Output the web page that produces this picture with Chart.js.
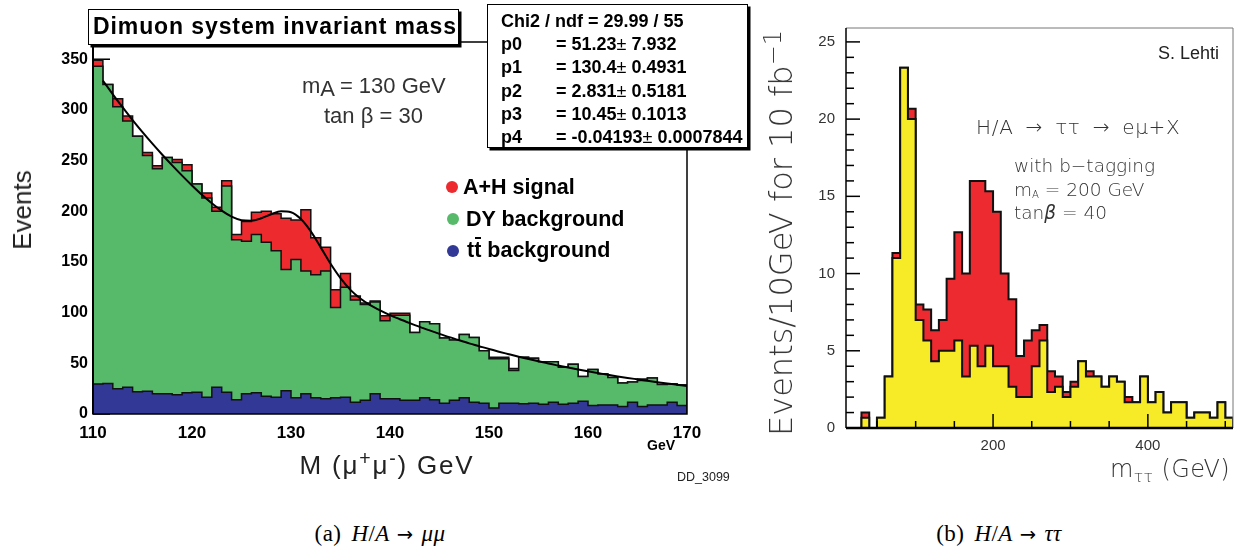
<!DOCTYPE html>
<html>
<head>
<meta charset="utf-8">
<script src="https://cdn.jsdelivr.net/npm/chart.js@4.4.1/dist/chart.umd.min.js"></script>
<style>
  html, body { margin:0; padding:0; background:#fff; }
  #page { position:relative; width:1240px; height:550px; overflow:hidden; background:#fff; }
  canvas { position:absolute; top:0; }
  .t { position:absolute; white-space:nowrap; line-height:1; font-family:"Liberation Sans", Arial, sans-serif; color:#000; }
  .b { font-weight:bold; }
  .pm { font-weight:normal; }
  .box { position:absolute; box-sizing:border-box; border:1.5px solid #000; background:#fff; box-shadow:2.5px 2.5px 0 #000; }
  .dot { position:absolute; width:12px; height:12px; border-radius:50%; }
  .thin { font-family:"DejaVu Sans", sans-serif; font-weight:200; color:#333; }
  .serif { font-family:"Liberation Serif", "DejaVu Serif", serif; font-size:23px; word-spacing:4px; letter-spacing:0.4px; }
  .arr { font-family:"DejaVu Sans", sans-serif; font-size:0.85em; margin:0 8px 0 7px; }
  .bar { position:relative; }
  .bar::before { content:""; position:absolute; left:1px; right:0; top:-1px; border-top:2px solid #000; }
  .sup { font-size:0.75em; position:relative; top:-0.45em; }
</style>
</head>
<body>
<div id="page">
  <canvas id="muChart" width="760" height="500" style="left:0"></canvas>
  <canvas id="tauChart" width="480" height="500" style="left:760px"></canvas>

  <!-- left panel texts -->
  <div class="box" style="left:88px;top:9px;width:371px;height:36px"></div>
  <div class="t b" style="left:93px;top:14.8px;font-size:23px;letter-spacing:0.9px">Dimuon system invariant mass</div>

  <div class="box" style="left:487px;top:4px;width:261px;height:144px"></div>
  <div class="t b" style="left:501px;top:11.8px;font-size:18px">Chi2 / ndf = 29.99 / 55</div>
  <div class="t b" style="left:501px;top:35.1px;font-size:18px">p0</div>
  <div class="t b" style="left:556px;top:35.1px;font-size:18px">= 51.23<span class="pm">±</span> 7.932</div>
  <div class="t b" style="left:501px;top:58.4px;font-size:18px">p1</div>
  <div class="t b" style="left:556px;top:58.4px;font-size:18px">= 130.4<span class="pm">±</span> 0.4931</div>
  <div class="t b" style="left:501px;top:81.8px;font-size:18px">p2</div>
  <div class="t b" style="left:556px;top:81.8px;font-size:18px">= 2.831<span class="pm">±</span> 0.5181</div>
  <div class="t b" style="left:501px;top:105.1px;font-size:18px">p3</div>
  <div class="t b" style="left:556px;top:105.1px;font-size:18px">= 10.45<span class="pm">±</span> 0.1013</div>
  <div class="t b" style="left:501px;top:128.4px;font-size:18px">p4</div>
  <div class="t b" style="left:556px;top:128.4px;font-size:18px">= -0.04193<span class="pm">±</span> 0.0007844</div>

  <div class="t" style="left:302px;top:74.7px;font-size:22px;color:#333">m<span style="position:relative;top:3.5px">A</span> = 130 GeV</div>
  <div class="t" style="left:324px;top:104.7px;font-size:22px;color:#333">tan β = 30</div>

  <div class="dot" style="left:446px;top:181px;background:#ED2A2E"></div>
  <div class="t b" style="left:463px;top:176.8px;font-size:21.5px">A+H signal</div>
  <div class="dot" style="left:447px;top:213px;background:#56BA6A"></div>
  <div class="t b" style="left:466px;top:208.8px;font-size:21.5px">DY background</div>
  <div class="dot" style="left:447px;top:245px;background:#323896"></div>
  <div class="t b" style="left:467px;top:240.3px;font-size:21.5px">t<span class="bar">t</span> background</div>

  <div class="t" style="left:22px;top:210px;font-size:26px;color:#222;transform:translate(-50%,-50%) rotate(-90deg)">Events</div>
  <div class="t" style="left:387px;top:452px;font-size:26px;color:#222;letter-spacing:1.8px;transform:translateX(-50%)">M (μ<span class="sup">+</span>μ<span class="sup">-</span>) GeV</div>
  <div class="t b" style="left:647px;top:438px;font-size:14px">GeV</div>
  <div class="t" style="left:677px;top:471px;font-size:12.5px;color:#222">DD_3099</div>
  <div class="t serif" style="left:380px;top:521.5px;transform:translateX(-50%)">(a) <i>H</i>/<i>A</i><span class="arr">→</span><i>μμ</i></div>

  <!-- right panel texts -->
  <div class="t" style="left:1158px;top:44.1px;font-size:18px;color:#222">S. Lehti</div>
  <div class="t thin" style="left:976px;top:117.1px;font-size:20px;word-spacing:5px;letter-spacing:0.7px">H/A → ττ → eμ+X</div>
  <div class="t thin" style="left:1014px;top:157.3px;font-size:18.5px">with b−tagging</div>
  <div class="t thin" style="left:1014px;top:181px;font-size:18.5px">m<span style="font-size:0.55em;position:relative;top:2px">A</span> = 200 GeV</div>
  <div class="t thin" style="left:1014px;top:204.3px;font-size:18.5px">tan<i>β</i> = 40</div>
  <div class="t thin" style="left:781px;top:233px;font-size:32px;transform:translate(-50%,-50%) rotate(-90deg)">Events/10GeV for 10 fb<span class="sup">−1</span></div>
  <div class="t thin" style="left:1110px;top:456.7px;font-size:24px;letter-spacing:0.4px">m<span style="font-size:0.65em;position:relative;top:5px">ττ</span> (GeV)</div>
  <div class="t serif" style="left:999px;top:521.5px;transform:translateX(-50%)">(b) <i>H</i>/<i>A</i><span class="arr">→</span><i>ττ</i></div>
</div>

<script>
// ---------------- Left panel: H/A -> mu mu ----------------
// bin edges (GeV), 1 GeV bins from 110 to 170
const muEdges = [110,111,112,113,114,115,116,117,118,119,120,121,122,123,124,125,126,127,128,129,
                 130,131,132,133,134,135,136,137,138,139,140,141,142,143,144,145,146,147,148,149,
                 150,151,152,153,154,155,156,157,158,159,160,161,162,163,164,165,166,167,168,169,170];
// signal + DY + ttbar (top of red)
const muTotal = [349,325,311,294,274,258,245,253,251,246,
                 227,218,204,230,177,190,199,200,197.5,193,
                 191.5,201.5,174,164.5,122.5,138.5,116.5,109.5,111.5,97,
                 99.5,99.5,80.5,91,89,75,73,78.5,75.5,62.5,
                 56,56,45,56,55,51.5,51.5,46,49,37,
                 44,39.5,36,30.5,31.5,34.5,35.5,29,29.5,28.5];
// DY + ttbar (top of green)
const muBackground = [343,325,303,289,274,255,242,253,248,240,
                      227,213,200,225,172,170.5,177,169.5,161,142.5,
                      152.5,141,137.5,141,105,125,112.5,108,110.5,92,
                      97.5,97.5,80.5,91,89,75,73,78.5,75.5,62.5,
                      54.5,54.5,43,56,55,51.5,51.5,46,49,37,
                      44,39.5,36,30.5,31.5,33,35.5,29,29.5,28.5];
// ttbar only (top of blue)
const muTtbar = [29.5,30,25,26.5,22,22.5,20,20,19,21,
                 21.5,16.5,26.5,21.5,14,20,21,17.5,16.5,23,
                 16,20,16,15,16,16.5,11.5,13.5,20,15,
                 15,13.5,13.5,16,14,10.5,13.5,16,11.5,10.5,
                 6,10.5,10.5,10,10.5,9.5,11.5,9.5,10.5,12.5,
                 8.5,9,9,7.5,11.5,7.5,9,9,11.5,8.5];
// fit curve
const muFitMass = [111,112,113,114,115,116,117,118,119,120,121,122,123,124,125,126,127,128,129,130,
                   131,132,133,134,135,136,137,138,139,140,141,142,143,144,145,146,147,148,149,150,
                   151,152,153,154,155,156,157,158,159,160,161,162,163,164,165,166,167,168,169,170];
const muFitValue = [328.9,315.4,302.5,290.0,278.1,266.7,255.8,245.3,235.2,225.5,216.3,208.0,200.6,194.7,191.2,190.7,193.1,197.1,200.0,199.0,
                    192.3,180.1,164.4,148.2,134.0,122.5,114.0,107.5,102.2,97.5,93.5,89.7,86.0,82.5,79.1,75.8,72.7,69.7,66.9,64.1,
                    61.5,59.0,56.5,54.2,52.0,49.8,47.8,45.8,43.9,42.1,40.4,38.7,37.1,35.6,34.2,32.8,31.4,30.1,28.9,27.7];
const muXTicks = [110,120,130,140,150,160,170];
const muYTicks = [0,50,100,150,200,250,300,350];

// ---------------- Right panel: H/A -> tau tau ----------------
const tauEdges = [10,20,30,40,50,60,70,80,90,100,110,120,130,140,150,160,170,180,190,200,
                  210,220,230,240,250,260,270,280,290,300,310,320,330,340,350,360,370,380,390,400,
                  410,420,430,440,450,460,470,480,490,500,510];
// signal + background (top of red)
const tauTotal = [0,0,1.0,0,0.67,3.33,11.33,23.33,20.67,8.0,
                  7.67,6.33,7.0,9.67,12.67,10.0,16.0,16.0,15.33,14.0,
                  10.0,8.33,4.67,5.67,6.33,6.67,3.67,3.33,2.33,3.0,
                  4.33,3.67,3.33,2.67,3.33,3.0,2.0,1.67,3.33,1.67,
                  2.33,1.0,1.67,1.67,0.67,1.0,1.0,0.67,1.67,0.67];
// background only (top of yellow)
const tauBackground = [0,0,0.67,0,0.67,3.33,11.0,23.33,20.0,7.0,
                       5.67,4.33,5.0,5.0,5.67,3.33,5.33,4.0,5.33,4.0,
                       4.0,2.67,2.0,2.0,4.0,5.67,2.33,2.67,2.0,2.67,
                       4.33,3.33,3.33,2.67,3.33,3.0,1.67,1.67,3.33,1.67,
                       2.33,1.0,1.67,1.67,0.67,1.0,1.0,0.67,1.67,0.67];
const tauXTicks = [200,400];
const tauYTicks = [0,5,10,15,20,25];

// histogram outline points: step line along bin edges
function histPoints(edges, vals) {
  const pts = [{x: edges[0], y: 0}];
  vals.forEach((v, i) => pts.push({x: edges[i], y: v}));
  pts.push({x: edges[vals.length], y: vals[vals.length - 1]});
  pts.push({x: edges[vals.length], y: 0});
  return pts;
}
function histDataset(edges, vals, fillColor, order, lw) {
  return {
    type: 'line', data: histPoints(edges, vals), stepped: 'before',
    borderColor: '#111', borderWidth: lw, backgroundColor: fillColor, fill: 'origin',
    pointRadius: 0, borderJoinStyle: 'miter', order: order
  };
}
function fixedTicks(list) { return s => { s.ticks = list.map(v => ({value: v})); }; }

const FONT = 'Liberation Sans';

// ---- left chart ----
const muFrame = {
  id: 'muFrame',
  beforeDatasetsDraw(chart) {
    const {ctx, chartArea: a, scales: {y}} = chart;
    ctx.save(); ctx.strokeStyle = '#000'; ctx.lineWidth = 1.5;
    muYTicks.forEach(v => { const py = y.getPixelForValue(v); ctx.beginPath(); ctx.moveTo(a.left, py); ctx.lineTo(a.left + 17, py); ctx.stroke(); });
    ctx.restore();
  },
  afterDatasetsDraw(chart) {
    const {ctx, chartArea: a} = chart;
    ctx.save(); ctx.strokeStyle = '#000'; ctx.lineWidth = 1.5;
    ctx.strokeRect(a.left, a.top, a.right - a.left, a.bottom - a.top);
    ctx.lineWidth = 2; ctx.beginPath(); ctx.moveTo(a.left, a.top); ctx.lineTo(a.left, a.bottom); ctx.stroke();
    ctx.restore();
  }
};

new Chart(document.getElementById('muChart'), {
  type: 'line',
  data: {
    datasets: [
      {type: 'line', data: muFitMass.map((m, i) => ({x: m, y: muFitValue[i]})), borderColor: '#000', borderWidth: 2,
       tension: 0.4, cubicInterpolationMode: 'monotone', pointRadius: 0, fill: false, order: 0},
      histDataset(muEdges, muTtbar, '#323896', 1, 1.5),
      histDataset(muEdges, muBackground, '#56BA6A', 2, 1.5),
      histDataset(muEdges, muTotal, '#ED2A2E', 3, 1.5)
    ]
  },
  options: {
    responsive: false, animation: false, events: [],
    layout: {padding: {left: 43, right: 73, top: 42, bottom: 46}},
    plugins: {legend: {display: false}, tooltip: {enabled: false}, title: {display: false}},
    scales: {
      x: {type: 'linear', min: 110, max: 170, afterBuildTicks: fixedTicks(muXTicks),
          afterFit: s => { s.height = 40; },
          ticks: {font: {family: FONT, size: 17, weight: 'bold'}, color: '#000', padding: 9, maxRotation: 0, autoSkip: false},
          grid: {display: false, drawTicks: false}, border: {display: false}},
      y: {type: 'linear', min: 0, max: 367, afterBuildTicks: fixedTicks(muYTicks),
          afterFit: s => { s.width = 50; },
          ticks: {font: {family: FONT, size: 16, weight: 'bold'}, color: '#000', padding: 5, autoSkip: false},
          grid: {display: false, drawTicks: false}, border: {display: false}}
    }
  },
  plugins: [muFrame]
});

// ---- right chart ----
const tauFrame = {
  id: 'tauFrame',
  afterDatasetsDraw(chart) {
    const {ctx, chartArea: a, scales: {x, y}} = chart;
    ctx.save();
    ctx.strokeStyle = '#777'; ctx.lineWidth = 1;
    ctx.beginPath(); ctx.moveTo(a.left, a.top); ctx.lineTo(a.right, a.top); ctx.lineTo(a.right, a.bottom); ctx.stroke();
    ctx.strokeStyle = '#000'; ctx.lineWidth = 1.5;
    for (let v = 0; v <= 25; v++) {
      const py = y.getPixelForValue(v), len = v % 5 === 0 ? 14 : 8;
      ctx.beginPath(); ctx.moveTo(a.left, py); ctx.lineTo(a.left + len, py); ctx.stroke();
    }
    for (let v = 50; v <= 500; v += 50) {
      const px = x.getPixelForValue(v), len = v % 200 === 0 ? 14 : 7;
      ctx.beginPath(); ctx.moveTo(px, a.bottom); ctx.lineTo(px, a.bottom - len); ctx.stroke();
    }
    ctx.beginPath(); ctx.moveTo(a.left, a.top); ctx.lineTo(a.left, a.bottom); ctx.stroke();
    ctx.lineWidth = 2.5; ctx.beginPath(); ctx.moveTo(a.left, a.bottom); ctx.lineTo(a.right, a.bottom); ctx.stroke();
    ctx.restore();
  }
};

new Chart(document.getElementById('tauChart'), {
  type: 'line',
  data: {
    datasets: [
      histDataset(tauEdges, tauBackground, '#F7EA26', 1, 2),
      histDataset(tauEdges, tauTotal, '#EC2A2F', 2, 2)
    ]
  },
  options: {
    responsive: false, animation: false, events: [],
    layout: {padding: {left: 36, right: 7, top: 28, bottom: 32}},
    plugins: {legend: {display: false}, tooltip: {enabled: false}, title: {display: false}},
    scales: {
      x: {type: 'linear', min: 10, max: 510, afterBuildTicks: fixedTicks(tauXTicks),
          afterFit: s => { s.height = 40; },
          ticks: {font: {family: FONT, size: 15}, color: '#333', padding: 9, maxRotation: 0, autoSkip: false},
          grid: {display: false, drawTicks: false}, border: {display: false}},
      y: {type: 'linear', min: 0, max: 25.9, afterBuildTicks: fixedTicks(tauYTicks),
          afterFit: s => { s.width = 50; },
          ticks: {font: {family: FONT, size: 15}, color: '#333', padding: 11, autoSkip: false},
          grid: {display: false, drawTicks: false}, border: {display: false}}
    }
  },
  plugins: [tauFrame]
});
</script>
</body>
</html>
